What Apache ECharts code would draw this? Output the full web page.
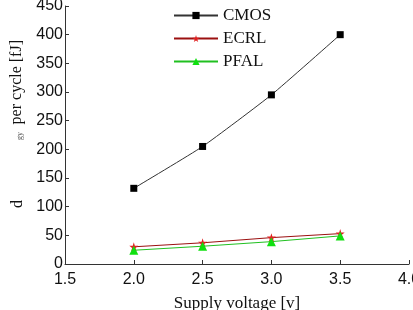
<!DOCTYPE html>
<html><head><meta charset="utf-8">
<script src="https://cdn.jsdelivr.net/npm/echarts@6/dist/echarts.min.js"></script>
<style>html,body{margin:0;padding:0;background:#fff}#c{width:413px;height:310px}</style>
</head><body><div id="c"></div>
<script>
const voltages = [2.0, 2.5, 3.0, 3.5];
const cmos = [132, 205, 295, 400];
const ecrl = [30, 37, 46, 53];
const pfal = [24, 31, 39, 49];
const seriesNames = ['CMOS', 'ECRL', 'PFAL'];

const chart = echarts.init(document.getElementById('c'));
const pts = arr => voltages.map((v, i) => [v, arr[i]]);
chart.setOption({
  animation: false,
  backgroundColor: '#fff',
  grid: {left: 65, right: 4, top: 6, bottom: 46, containLabel: false, outerBoundsMode: 'none'},
  legend: {
    orient: 'vertical', left: 173, top: 7, padding: 0, itemWidth: 44, itemHeight: 9, itemGap: 6,
    textStyle: {fontFamily: 'Liberation Serif', fontSize: 17, color: '#111'},
    data: seriesNames
  },
  xAxis: {
    type: 'value', min: 1.5, max: 4.0, interval: 0.5,
    axisLine: {lineStyle: {color: '#333', width: 1}},
    axisTick: {inside: true, length: 4, lineStyle: {color: '#333'}},
    axisLabel: {fontFamily: 'Liberation Sans', fontSize: 16, color: '#111', margin: 8,
      formatter: v => v.toFixed(1), showMaxLabel: true},
    splitLine: {show: false},
    name: 'Supply voltage [v]', nameLocation: 'middle', nameGap: 31,
    nameTextStyle: {fontFamily: 'Liberation Serif', fontSize: 17, color: '#111'}
  },
  yAxis: {
    type: 'value', min: 0, max: 450, interval: 50,
    axisLine: {show: true, lineStyle: {color: '#333', width: 1}},
    axisTick: {show: true, inside: true, length: 4, lineStyle: {color: '#333'}},
    axisLabel: {fontFamily: 'Liberation Sans', fontSize: 16, color: '#111', margin: 2},
    splitLine: {show: false}
  },
  graphic: [
    {type: 'text', left: 9, top: 40, rotation: Math.PI/2,
     style: {text: 'per cycle [fJ]', font: '16px "Liberation Serif"', fill: '#111'}},
    {type: 'text', x: 10, y: 208, rotation: Math.PI/2,
     style: {text: 'd', font: '16px "Liberation Serif"', fill: '#111'}},
    {type: 'text', x: 16, y: 140, rotation: Math.PI/2,
     style: {text: 'gy', font: '8px "Liberation Serif"', fill: '#555'}}
  ],
  series: [
    {name: 'CMOS', type: 'line', data: pts(cmos), smooth: 0.15, symbol: 'rect', symbolSize: 7,
     itemStyle: {color: '#000'}, lineStyle: {color: '#333', width: 1}},
    {name: 'ECRL', type: 'line', data: pts(ecrl), symbol: 'path://M50,0 L61,35 L98,35 L68,57 L79,91 L50,70 L21,91 L32,57 L2,35 L39,35 Z', symbolSize: 9,
     itemStyle: {color: '#e02020'}, lineStyle: {color: '#9b1010', width: 1}},
    {name: 'PFAL', type: 'line', data: pts(pfal), symbol: 'triangle', symbolSize: 9,
     itemStyle: {color: '#10e010'}, lineStyle: {color: '#20c020', width: 1}}
  ]
});
</script></body></html>
